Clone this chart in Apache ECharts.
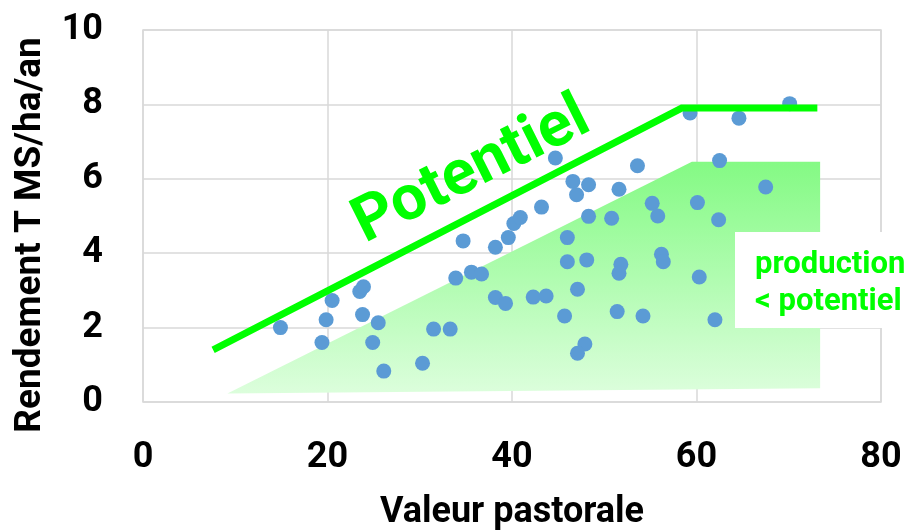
<!DOCTYPE html>
<html>
<head>
<meta charset="utf-8">
<script src="https://cdn.jsdelivr.net/npm/echarts@6/dist/echarts.min.js"></script>
<style>
html,body{margin:0;padding:0;background:#fff;}
#chart{width:913px;height:531px;}
</style>
</head>
<body>
<div id="chart"></div>
<script>
// Data
var pastoralValue = [14.9,19.4,19.85,20.5,23.5,23.9,23.8,25.5,24.9,26.1,30.3,31.5,33.3,33.9,34.7,35.6,36.7,38.2,39.3,38.2,39.6,40.2,40.9,43.2,44.7,46.6,48.3,47.0,51.6,53.6,48.3,50.8,55.2,55.8,46.0,46.0,48.1,51.8,51.6,56.2,56.4,60.1,62.4,62.5,64.6,59.3,70.1,67.5,60.3,62.0,42.3,43.7,47.1,45.7,51.4,54.2,47.9,47.1];
var yieldValue   = [2.0,1.6,2.21,2.73,2.97,3.10,2.35,2.13,1.60,0.83,1.04,1.96,1.96,3.33,4.33,3.49,3.44,2.81,2.65,4.16,4.42,4.80,4.96,5.24,6.56,5.93,5.84,5.57,5.72,6.35,4.99,4.94,5.34,5.00,4.42,3.77,3.82,3.70,3.46,3.97,3.77,5.36,4.90,6.49,7.63,7.77,8.02,5.78,3.36,2.21,2.82,2.85,3.03,2.31,2.43,2.31,1.56,1.31];
var potentialX = [7.6, 58.4, 73.1];
var potentialY = [1.4, 7.9, 7.9];
var shadeX = [9.15, 59.5, 73.4, 73.4];
var shadeY = [0.23, 6.46, 6.46, 0.37];
var xTicks = [0, 20, 40, 60, 80];
var yTicks = [0, 2, 4, 6, 8, 10];
var xTitle = 'Valeur pastorale';
var yTitle = 'Rendement T MS/ha/an';
var potentialLabel = 'Potentiel';
var productionLabel = 'production\n< potentiel';

var scatterData = pastoralValue.map(function(v, i){ return [v, yieldValue[i]]; });
var potentialData = potentialX.map(function(v, i){ return [v, potentialY[i]]; });

var chart = echarts.init(document.getElementById('chart'), null, {renderer:'canvas'});
var FONT = 'Roboto';
var option = {
  animation: false,
  backgroundColor: '#ffffff',
  grid: {left:143, right:32, top:30, bottom:129, containLabel:false, outerBoundsMode:'none',
         show:true, borderColor:'#d9d9d9', borderWidth:1.5, backgroundColor:'transparent'},
  xAxis: {
    type:'value', min:xTicks[0], max:xTicks[xTicks.length-1], interval:20,
    name: xTitle, nameLocation:'middle', nameGap:93,
    nameTextStyle:{fontFamily:FONT, fontWeight:'bold', fontSize:36, color:'#000'},
    axisLine:{show:false}, axisTick:{show:false},
    axisLabel:{fontFamily:FONT, fontWeight:'bold', fontSize:36, color:'#000', margin:38},
    splitLine:{show:true, lineStyle:{color:'#d9d9d9', width:1.5}}
  },
  yAxis: {
    type:'value', min:yTicks[0], max:yTicks[yTicks.length-1], interval:2,
    axisLine:{show:false}, axisTick:{show:false},
    axisLabel:{fontFamily:FONT, fontWeight:'bold', fontSize:36, color:'#000', margin:40},
    splitLine:{show:true, lineStyle:{color:'#d9d9d9', width:1.5}}
  },
  series: [
    {
      type:'custom', z:1, silent:true,
      data:[0],
      renderItem:function(params, api){
        var pts = shadeX.map(function(x, i){ return api.coord([x, shadeY[i]]); });
        return {
          type:'polygon',
          shape:{points:pts},
          style:{fill:new echarts.graphic.LinearGradient(0,0,0,1,[
            {offset:0, color:'#84fa84'},
            {offset:1, color:'#dcfedc'}
          ])}
        };
      }
    },
    {
      type:'scatter', z:3, symbol:'circle', symbolSize:15,
      itemStyle:{color:'#5b9bd5', opacity:1},
      data: scatterData
    },
    {
      type:'line', z:4, symbol:'none',
      lineStyle:{color:'#00ff00', width:7, cap:'butt', join:'miter'},
      data: potentialData
    }
  ],
  graphic: [
    {type:'text', z:50, x:31, y:235, rotation:Math.PI/2,
     style:{text:yTitle, fill:'#000', font:'bold 37px Roboto', textAlign:'center', textVerticalAlign:'middle'}},
    {type:'rect', z:100, shape:{x:735, y:232, width:178, height:96}, style:{fill:'#ffffff'}},
    {type:'text', z:101, x:755, y:247, style:{text:productionLabel, fill:'#00ff00', font:'bold 31px Roboto', lineHeight:37, textVerticalAlign:'top'}},
    {type:'text', z:101, x:472, y:172, rotation:26.5*Math.PI/180,
     style:{text:potentialLabel, fill:'#00ff00', font:'bold 63px Roboto', textAlign:'center', textVerticalAlign:'middle'}}
  ]
};
chart.setOption(option);
</script>
</body>
</html>
